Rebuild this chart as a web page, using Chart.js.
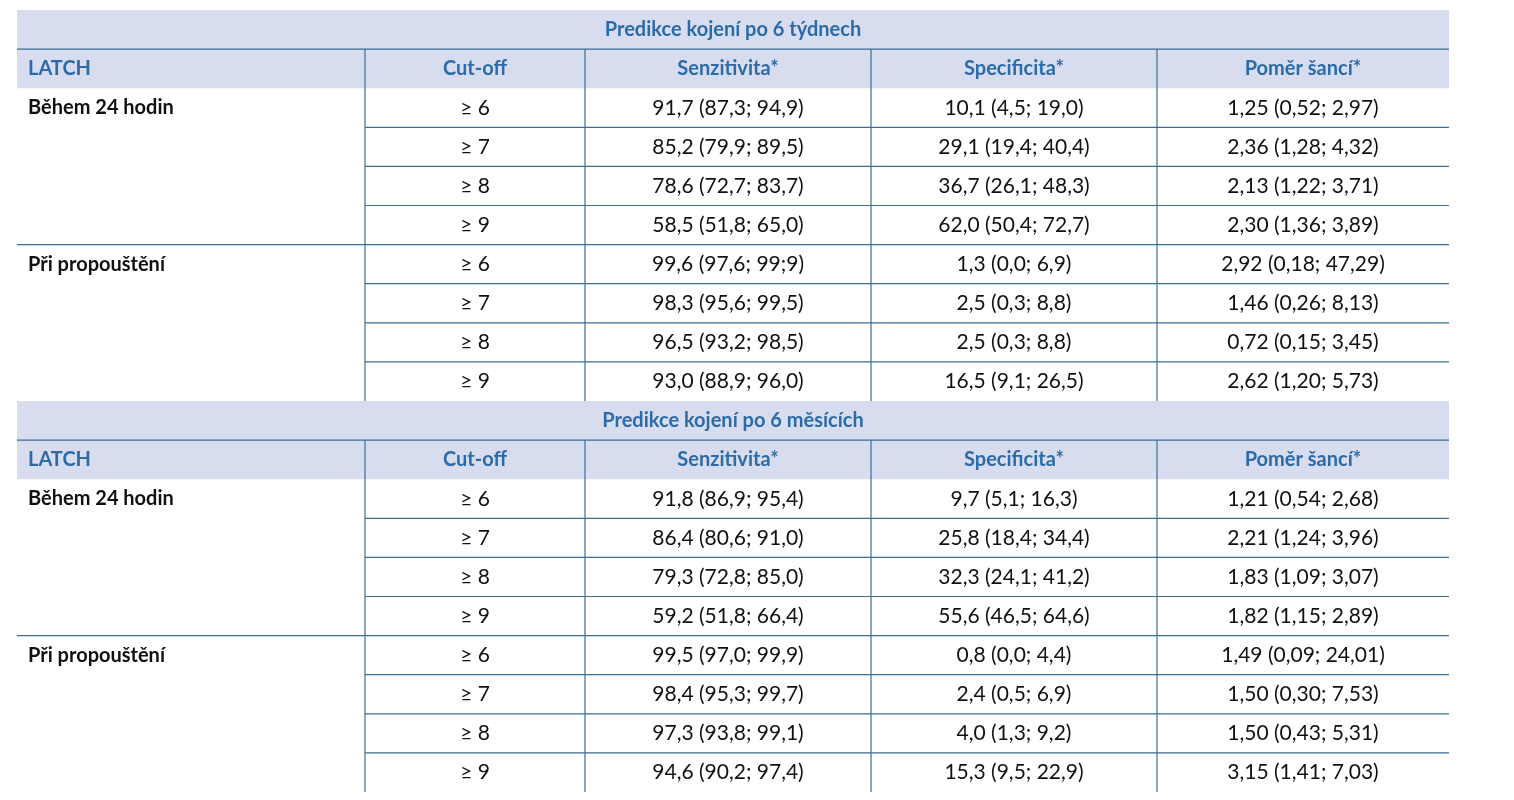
<!DOCTYPE html>
<html>
<head>
<meta charset="utf-8">
<script src="https://cdn.jsdelivr.net/npm/chart.js@4.4.0/dist/chart.umd.min.js"></script>
<style>
  html, body { margin: 0; padding: 0; background: #fff; }
  #wrap { width: 1514px; height: 800px; }
</style>
</head>
<body>
<div id="wrap"><canvas id="tbl"></canvas></div>
<script>
// table data
const blockTitles = ['Predikce kojení po 6 týdnech', 'Predikce kojení po 6 měsících'];
const headers = ['LATCH', 'Cut-off', 'Senzitivita*', 'Specificita*', 'Poměr šancí*'];
const groups = ['Během 24 hodin', 'Při propouštění'];
const cutoffs = ['≥ 6', '≥ 7', '≥ 8', '≥ 9'];

const sens6w = ['91,7 (87,3; 94,9)', '85,2 (79,9; 89,5)', '78,6 (72,7; 83,7)', '58,5 (51,8; 65,0)',
                '99,6 (97,6; 99;9)', '98,3 (95,6; 99,5)', '96,5 (93,2; 98,5)', '93,0 (88,9; 96,0)'];
const spec6w = ['10,1 (4,5; 19,0)', '29,1 (19,4; 40,4)', '36,7 (26,1; 48,3)', '62,0 (50,4; 72,7)',
                '1,3 (0,0; 6,9)', '2,5 (0,3; 8,8)', '2,5 (0,3; 8,8)', '16,5 (9,1; 26,5)'];
const odds6w = ['1,25 (0,52; 2,97)', '2,36 (1,28; 4,32)', '2,13 (1,22; 3,71)', '2,30 (1,36; 3,89)',
                '2,92 (0,18; 47,29)', '1,46 (0,26; 8,13)', '0,72 (0,15; 3,45)', '2,62 (1,20; 5,73)'];
const sens6m = ['91,8 (86,9; 95,4)', '86,4 (80,6; 91,0)', '79,3 (72,8; 85,0)', '59,2 (51,8; 66,4)',
                '99,5 (97,0; 99,9)', '98,4 (95,3; 99,7)', '97,3 (93,8; 99,1)', '94,6 (90,2; 97,4)'];
const spec6m = ['9,7 (5,1; 16,3)', '25,8 (18,4; 34,4)', '32,3 (24,1; 41,2)', '55,6 (46,5; 64,6)',
                '0,8 (0,0; 4,4)', '2,4 (0,5; 6,9)', '4,0 (1,3; 9,2)', '15,3 (9,5; 22,9)'];
const odds6m = ['1,21 (0,54; 2,68)', '2,21 (1,24; 3,96)', '1,83 (1,09; 3,07)', '1,82 (1,15; 2,89)',
                '1,49 (0,09; 24,01)', '1,50 (0,30; 7,53)', '1,50 (0,43; 5,31)', '3,15 (1,41; 7,03)'];

// layout (scale units = pixels of the reference)
const colEdges = [17, 365, 585, 871, 1157, 1449];
const rowTop = 10, rowH = 39.1;
const headBg = '#d7ddef', lineCol = '#3b6f93', headText = '#2d6aa8';
const font = '"Lato", "Open Sans", sans-serif';

const blocks = [
  { title: blockTitles[0], cols: [sens6w, spec6w, odds6w] },
  { title: blockTitles[1], cols: [sens6m, spec6m, odds6m] }
];

const tablePlugin = {
  id: 'tablePlugin',
  afterDraw(chart) {
    const ctx = chart.ctx, xs = chart.scales.x, ys = chart.scales.y;
    const X = v => xs.getPixelForValue(v);
    const Y = r => ys.getPixelForValue(rowTop + r * rowH);
    const hline = (x0, x1, r) => {
      ctx.beginPath(); ctx.moveTo(X(x0), Y(r)); ctx.lineTo(X(x1), Y(r)); ctx.stroke();
    };
    ctx.save();
    ctx.strokeStyle = lineCol; ctx.lineWidth = 1.2;
    ctx.textBaseline = 'middle';
    blocks.forEach((b, bi) => {
      const r0 = bi * 10;
      // header backgrounds
      ctx.fillStyle = headBg;
      ctx.fillRect(X(colEdges[0]), Y(r0), X(colEdges[5]) - X(colEdges[0]), Y(r0 + 2) - Y(r0));
      hline(colEdges[0], colEdges[5], r0 + 1);
      ctx.fillStyle = headText;
      ctx.font = 'bold 20px ' + font;
      ctx.textAlign = 'center';
      ctx.fillText(b.title, X((colEdges[0] + colEdges[5]) / 2), Y(r0 + 0.5));
      headers.forEach((h, c) => {
        if (c === 0) {
          ctx.textAlign = 'left';
          ctx.fillText(h, X(colEdges[0] + 11), Y(r0 + 1.5));
        } else {
          ctx.textAlign = 'center';
          ctx.fillText(h, X((colEdges[c] + colEdges[c + 1]) / 2), Y(r0 + 1.5));
        }
      });
      // vertical lines
      for (let c = 1; c < 5; c++) {
        ctx.beginPath(); ctx.moveTo(X(colEdges[c]), Y(r0 + 1)); ctx.lineTo(X(colEdges[c]), Y(r0 + 10)); ctx.stroke();
      }
      // data rows
      for (let i = 0; i < 8; i++) {
        const r = r0 + 2 + i;
        const g = Math.floor(i / 4);
        if (i % 4 === 0) {
          ctx.fillStyle = '#111'; ctx.font = 'bold 20px ' + font; ctx.textAlign = 'left';
          ctx.fillText(groups[g], X(colEdges[0] + 11), Y(r + 0.5));
        }
        if (i === 3) hline(colEdges[0], colEdges[5], r + 1);
        else if (i < 7) hline(colEdges[1], colEdges[5], r + 1);
        ctx.fillStyle = '#111'; ctx.font = '21px ' + font; ctx.textAlign = 'center';
        ctx.fillText(cutoffs[i % 4], X((colEdges[1] + colEdges[2]) / 2), Y(r + 0.5));
        b.cols.forEach((arr, k) => {
          ctx.fillText(arr[i], X((colEdges[k + 2] + colEdges[k + 3]) / 2), Y(r + 0.5));
        });
      }
    });
    ctx.restore();
  }
};

new Chart(document.getElementById('tbl').getContext('2d'), {
  type: 'scatter',
  data: { datasets: [{ data: [], pointRadius: 0 }] },
  options: {
    responsive: true,
    maintainAspectRatio: false,
    animation: false,
    layout: { padding: 0 },
    plugins: { legend: { display: false }, tooltip: { enabled: false } },
    scales: {
      x: { type: 'linear', min: 0, max: 1514, display: false },
      y: { type: 'linear', min: 0, max: 800, reverse: true, display: false }
    }
  },
  plugins: [tablePlugin]
});
</script>
</body>
</html>
